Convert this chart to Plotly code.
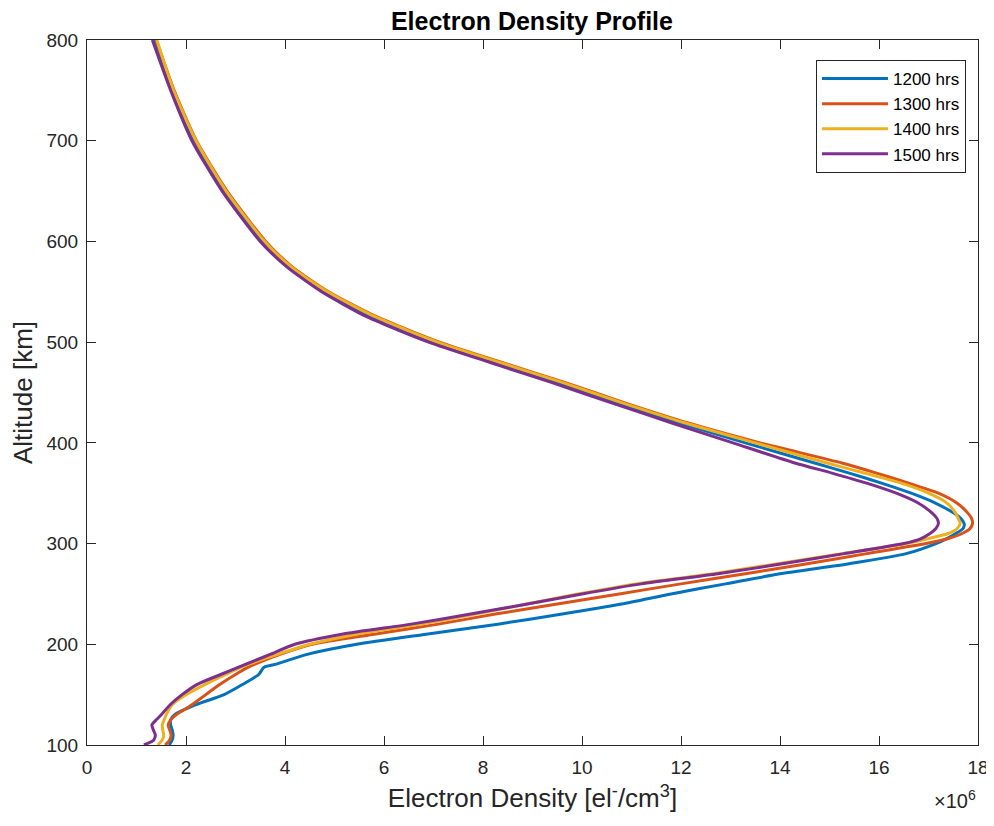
import plotly.graph_objects as go

# Altitude grid [km]
altitude_km = [100, 105, 110, 115, 120, 125, 130, 140, 150, 160, 170, 177, 180, 190,
               200, 210, 220, 230, 240, 250, 260, 270, 280, 290, 300, 305, 310, 315,
               320, 325, 330, 340, 350, 360, 370, 380, 400, 420, 440, 460, 480, 500,
               525, 550, 575, 600, 650, 700, 750, 800]

# Electron density in units of 1e6 el/cm^3
density_1200 = [1.66, 1.72, 1.74, 1.72, 1.69, 1.69, 1.77, 2.20, 2.77, 3.14, 3.47, 3.57, 3.80, 4.45,
                5.45, 6.85, 8.30, 9.60, 10.80, 11.80, 12.90, 14.00, 15.40, 16.55, 17.15, 17.37, 17.55, 17.70,
                17.72, 17.65, 17.52, 17.15, 16.65, 16.05, 15.40, 14.70, 13.30, 11.95, 10.70, 9.50, 8.25, 7.00,
                5.75, 4.80, 4.08, 3.55, 2.78, 2.17, 1.73, 1.37]

density_1300 = [1.58, 1.67, 1.70, 1.67, 1.64, 1.69, 1.80, 2.12, 2.40, 2.68, 3.00, 3.25, 3.38, 3.90,
                4.55, 5.80, 7.10, 8.25, 9.50, 10.75, 12.00, 13.30, 14.55, 15.75, 16.95, 17.40, 17.68, 17.84,
                17.89, 17.87, 17.80, 17.58, 17.20, 16.60, 15.95, 15.25, 13.60, 12.13, 10.85, 9.65, 8.37, 7.12,
                5.86, 4.88, 4.14, 3.61, 2.83, 2.21, 1.76, 1.40]

density_1400 = [1.43, 1.52, 1.55, 1.53, 1.52, 1.56, 1.60, 1.72, 2.00, 2.38, 2.80, 3.10, 3.25, 3.85,
                4.50, 5.45, 6.75, 7.85, 8.88, 9.92, 11.10, 12.65, 13.95, 15.25, 16.55, 17.00, 17.40, 17.58,
                17.64, 17.60, 17.55, 17.38, 17.00, 16.45, 15.70, 14.95, 13.50, 12.07, 10.80, 9.60, 8.33, 7.08,
                5.83, 4.86, 4.12, 3.59, 2.81, 2.20, 1.75, 1.41]

density_1500 = [1.15, 1.35, 1.38, 1.34, 1.31, 1.40, 1.50, 1.68, 1.92, 2.22, 2.70, 3.05, 3.20, 3.70,
                4.20, 5.15, 6.55, 7.75, 8.90, 10.00, 11.20, 12.75, 14.05, 15.30, 16.50, 16.85, 17.03, 17.15,
                17.20, 17.17, 17.08, 16.80, 16.35, 15.75, 15.05, 14.30, 13.05, 11.80, 10.58, 9.38, 8.13, 6.90,
                5.66, 4.74, 4.03, 3.50, 2.73, 2.12, 1.69, 1.32]

series_names = ["1200 hrs", "1300 hrs", "1400 hrs", "1500 hrs"]
series_values = [density_1200, density_1300, density_1400, density_1500]
series_colors = ["#0072BD", "#D95319", "#EDB120", "#7E2F8E"]

x_ticks = [0, 2, 4, 6, 8, 10, 12, 14, 16, 18]
y_ticks = [100, 200, 300, 400, 500, 600, 700, 800]

FONT = "Liberation Sans, Arial, Helvetica, sans-serif"
AX = "#262626"

fig = go.Figure()
for name, vals, col in zip(series_names, series_values, series_colors):
    fig.add_trace(go.Scatter(x=vals, y=altitude_km, mode="lines", name=name,
                             line=dict(color=col, width=3, shape="spline", smoothing=0.6)))

axis_common = dict(showgrid=False, zeroline=False, showline=True, linecolor=AX, linewidth=1,
                   mirror="ticks", ticks="inside", ticklen=9, tickwidth=1, tickcolor=AX,
                   automargin=False,
                   tickfont=dict(family=FONT, size=19, color=AX))

fig.update_xaxes(range=[0, 18], tickvals=x_ticks, ticktext=[str(t) for t in x_ticks],
                 ticklabelstandoff=5,
                 title=dict(text="Electron Density [el<sup>-</sup>/cm<sup>3</sup>]",
                            font=dict(family=FONT, size=26, color=AX), standoff=12),
                 **axis_common)
fig.update_yaxes(range=[100, 800], tickvals=y_ticks, ticktext=[str(t) for t in y_ticks],
                 ticklabelstandoff=4,
                 title=dict(text="Altitude [km]", font=dict(family=FONT, size=26, color=AX), standoff=6),
                 **axis_common)

# Page body has an 8px margin; size the figure so the plot box lands at 87..978 x 40..745
fig.update_layout(
    width=986, height=818,
    margin=dict(l=79, r=16, t=32, b=81),
    paper_bgcolor="white", plot_bgcolor="white",
    title=dict(text="<b>Electron Density Profile</b>", x=0.5314, xanchor="center",
               y=1 - 13 / 818, yref="container", yanchor="middle",
               font=dict(family=FONT, size=25, color="black")),
    legend=dict(x=0.9865, y=0.9716, xanchor="right", yanchor="top",
                bgcolor="white", bordercolor=AX, borderwidth=1, itemwidth=66,
                font=dict(family=FONT, size=17, color="black")),
    annotations=[dict(text="\u00d710<sup>6</sup>", xref="paper", yref="paper", x=1.0, y=-0.078,
                      xanchor="right", yanchor="middle", showarrow=False,
                      font=dict(family=FONT, size=20, color=AX))],
    showlegend=True,
)

fig.write_html("out.html")
